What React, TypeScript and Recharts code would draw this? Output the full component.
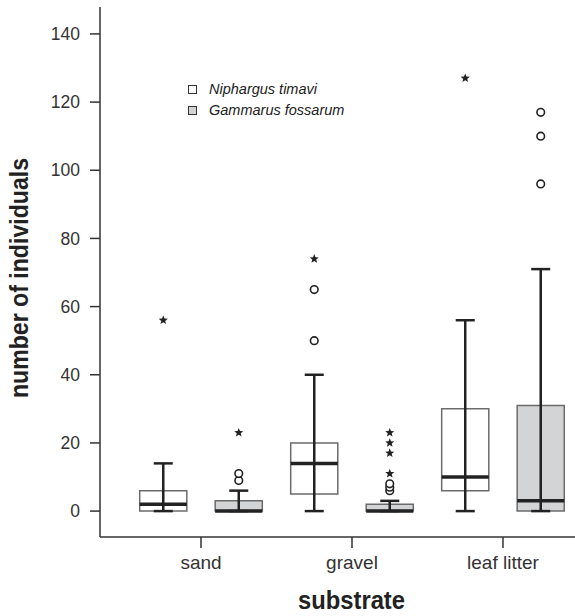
import React from 'react';
import { ComposedChart, XAxis, YAxis, ReferenceArea, ReferenceLine, Scatter, Legend, Label } from 'recharts';

const categories = ['sand', 'gravel', 'leaf litter'];
const yTicks = [0, 20, 40, 60, 80, 100, 120, 140];
const species = ['Niphargus timavi', 'Gammarus fossarum'];
const speciesFill = ['#ffffff', '#d3d4d6'];

// Niphargus timavi (white boxes)
const nipMin = [0, 0, 0];
const nipQ1 = [0, 5, 6];
const nipMedian = [2, 14, 10];
const nipQ3 = [6, 20, 30];
const nipMax = [14, 40, 56];
const nipCircles = [[], [50, 65], []];
const nipStars = [[56], [74], [127]];

// Gammarus fossarum (grey boxes)
const gamMin = [0, 0, 0];
const gamQ1 = [0, 0, 0];
const gamMedian = [0, 0, 3];
const gamQ3 = [3, 2, 31];
const gamMax = [6, 3, 71];
const gamCircles = [[9, 11], [6, 7, 8], [96, 110, 117]];
const gamStars = [[23], [11, 17, 20, 23], []];

const FONT = "'Liberation Sans', Arial, sans-serif";
const INK = '#222';
const OFFSET = 0.25; // series offset from category centre
const HALF_BOX = 0.156;
const HALF_CAP = 0.063;

const series = [
  { min: nipMin, q1: nipQ1, med: nipMedian, q3: nipQ3, max: nipMax, circles: nipCircles, stars: nipStars, dx: -OFFSET, fill: speciesFill[0] },
  { min: gamMin, q1: gamQ1, med: gamMedian, q3: gamQ3, max: gamMax, circles: gamCircles, stars: gamStars, dx: OFFSET, fill: speciesFill[1] },
];

const boxes = series.flatMap((s, si) =>
  categories.map((c, ci) => ({
    key: `${si}-${ci}`,
    x: ci + s.dx,
    min: s.min[ci],
    q1: s.q1[ci],
    med: s.med[ci],
    q3: s.q3[ci],
    max: s.max[ci],
    fill: s.fill,
  }))
);

const circlePoints = series.flatMap((s) =>
  categories.flatMap((c, ci) => s.circles[ci].map((y) => ({ x: ci + s.dx, y })))
);
const starPoints = series.flatMap((s) =>
  categories.flatMap((c, ci) => s.stars[ci].map((y) => ({ x: ci + s.dx, y })))
);

const CircleShape = (props: any) => (
  <circle cx={props.cx} cy={props.cy} r={3.8} fill="#fff" stroke={INK} strokeWidth={1.6} />
);

const StarShape = (props: any) => {
  const { cx, cy } = props;
  const pts: string[] = [];
  for (let i = 0; i < 10; i++) {
    const r = i % 2 === 0 ? 4.8 : 2.1;
    const a = -Math.PI / 2 + (i * Math.PI) / 5;
    pts.push(`${cx + r * Math.cos(a)},${cy + r * Math.sin(a)}`);
  }
  return <polygon points={pts.join(' ')} fill={INK} />;
};

const renderLegend = () => (
  <div style={{ fontFamily: FONT, fontStyle: 'italic', fontSize: 14.5, color: INK, lineHeight: '21px' }}>
    {species.map((s, i) => (
      <div key={s} style={{ display: 'flex', alignItems: 'center' }}>
        <span
          style={{
            display: 'inline-block',
            width: 9,
            height: 9,
            boxSizing: 'border-box',
            border: '1px solid #333',
            background: speciesFill[i],
            marginRight: 12,
          }}
        />
        {s}
      </div>
    ))}
  </div>
);

export default function App() {
  return (
    <div style={{ position: 'absolute', left: 0, top: 0, width: 575, height: 616, background: '#fff', fontFamily: FONT }}>
      <ComposedChart width={575} height={616} margin={{ top: 7, right: 0, bottom: 0, left: 0 }}>
        <XAxis
          type="number"
          dataKey="x"
          domain={[-0.669, 2.477]}
          ticks={[0, 1, 2]}
          tickFormatter={(v: number) => categories[v]}
          allowDataOverflow
          height={79}
          tickSize={11}
          tickMargin={8}
          stroke="#333"
          strokeWidth={1.5}
          tick={{ fill: '#333', fontSize: 19, fontFamily: FONT }}
        >
          <Label
            content={(p: any) => {
              const vb = p.viewBox;
              return (
                <text
                  x={vb.x + vb.width / 2 + 14}
                  y={vb.y + vb.height - 7}
                  textAnchor="middle"
                  fontFamily={FONT}
                  fontWeight="bold"
                  fontSize={25}
                  textLength={107}
                  lengthAdjust="spacingAndGlyphs"
                  fill={INK}
                >
                  substrate
                </text>
              );
            }}
          />
        </XAxis>
        <YAxis
          type="number"
          dataKey="y"
          domain={[-7.6, 147.9]}
          ticks={yTicks}
          allowDataOverflow
          width={100}
          tickSize={10}
          tickMargin={10}
          stroke="#333"
          strokeWidth={1.5}
          tick={{ fill: '#333', fontSize: 17.5, fontFamily: FONT }}
        >
          <Label
            content={(p: any) => {
              const vb = p.viewBox;
              const cx = vb.x + 19;
              const cy = vb.y + vb.height / 2 + 6;
              return (
                <text
                  x={cx}
                  y={cy}
                  transform={`rotate(-90, ${cx}, ${cy})`}
                  textAnchor="middle"
                  dominantBaseline="central"
                  fontFamily={FONT}
                  fontWeight="bold"
                  fontSize={26}
                  textLength={240}
                  lengthAdjust="spacingAndGlyphs"
                  fill={INK}
                >
                  number of individuals
                </text>
              );
            }}
          />
        </YAxis>

        {/* whiskers */}
        {boxes.map((b) => (
          <ReferenceLine
            key={`w-${b.key}`}
            segment={[{ x: b.x, y: b.min }, { x: b.x, y: b.max }]}
            stroke={INK}
            strokeWidth={2.5}
            ifOverflow="visible"
          />
        ))}
        {boxes.map((b) => (
          <ReferenceLine
            key={`cmax-${b.key}`}
            segment={[{ x: b.x - HALF_CAP, y: b.max }, { x: b.x + HALF_CAP, y: b.max }]}
            stroke={INK}
            strokeWidth={2.5}
            ifOverflow="visible"
          />
        ))}
        {boxes.map((b) => (
          <ReferenceLine
            key={`cmin-${b.key}`}
            segment={[{ x: b.x - HALF_CAP, y: b.min }, { x: b.x + HALF_CAP, y: b.min }]}
            stroke={INK}
            strokeWidth={2.5}
            ifOverflow="visible"
          />
        ))}
        {/* boxes */}
        {boxes.map((b) => (
          <ReferenceArea
            key={`b-${b.key}`}
            x1={b.x - HALF_BOX}
            x2={b.x + HALF_BOX}
            y1={b.q1}
            y2={b.q3}
            fill={b.fill}
            fillOpacity={1}
            stroke="#6b6b6b"
            strokeWidth={1.5}
            ifOverflow="visible"
          />
        ))}
        {/* medians */}
        {boxes.map((b) => (
          <ReferenceLine
            key={`m-${b.key}`}
            segment={[{ x: b.x - HALF_BOX, y: b.med }, { x: b.x + HALF_BOX, y: b.med }]}
            stroke={INK}
            strokeWidth={3.5}
            ifOverflow="visible"
          />
        ))}

        <Scatter data={circlePoints} dataKey="y" shape={CircleShape} isAnimationActive={false} />
        <Scatter data={starPoints} dataKey="y" shape={StarShape} isAnimationActive={false} />

        <Legend
          layout="horizontal"
          verticalAlign="middle"
          align="center"
          content={renderLegend}
          wrapperStyle={{ left: 188, top: 79, width: 220 }}
        />
      </ComposedChart>
    </div>
  );
}
